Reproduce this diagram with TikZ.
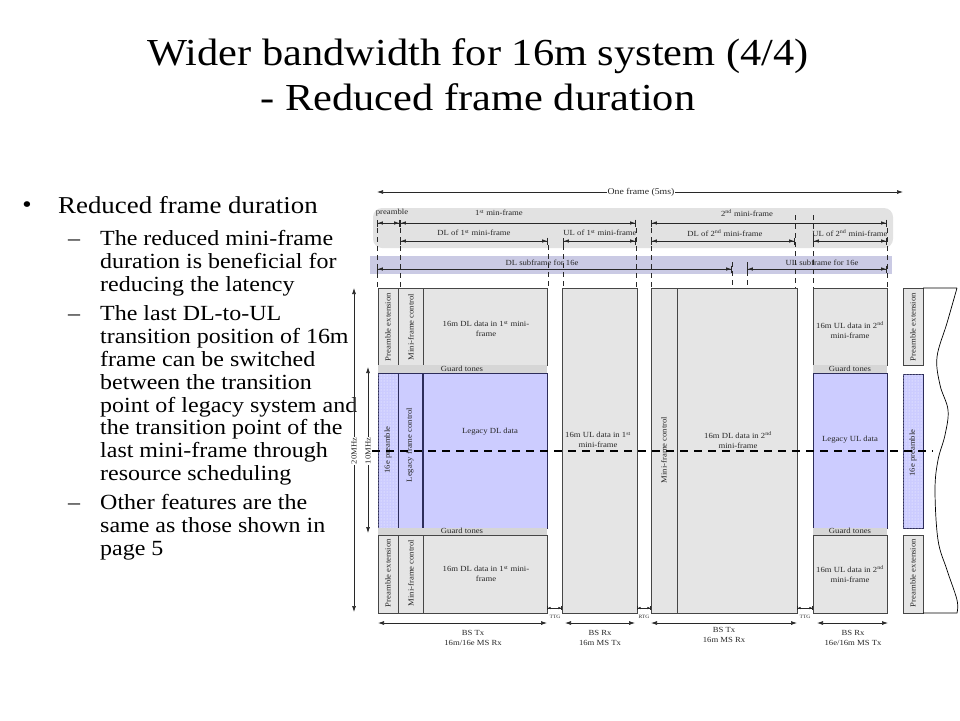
\documentclass[tikz,border=0pt]{standalone}
\usepackage{fontspec}
\setmainfont{Liberation Serif}[FakeStretch=1.11]
\usetikzlibrary{arrows.meta,patterns}

\definecolor{boxgray}{RGB}{229,229,229}
\definecolor{guardgray}{RGB}{214,214,214}
\definecolor{roundgray}{RGB}{226,226,226}
\definecolor{legacyblue}{RGB}{204,204,255}
\definecolor{bandblue}{RGB}{202,202,228}
\definecolor{edgegray}{RGB}{70,70,70}
\definecolor{edgenavy}{RGB}{45,45,90}
\definecolor{inkgray}{RGB}{40,40,40}

\newcommand{\fsz}[2]{\fontsize{#1}{#2}\selectfont}

\tikzset{
  graybox/.style={draw=edgegray, fill=boxgray, line width=0.8pt},
  bluebox/.style={draw=edgenavy, fill=legacyblue, line width=0.8pt},
  dotbox/.style={draw=edgenavy, fill=legacyblue, line width=0.8pt,
    postaction={pattern=dots, pattern color=white}},
  guardstrip/.style={fill=guardgray},
  boxlabel/.style={font=\fsz{7.8}{10}, text=inkgray, inner sep=0pt, align=center},
  sidelabel/.style={boxlabel, rotate=90},
  gaplabel/.style={font=\fsz{5}{6}, text=inkgray, inner sep=0pt},
  dimarrow/.style={draw=inkgray, line width=0.8pt,
    arrows={Bar[width=7pt]Latex[length=5pt,width=3.5pt]-Latex[length=5pt,width=3.5pt]Bar[width=7pt]}},
  gaparrow/.style={draw=inkgray, line width=0.6pt,
    arrows={Bar[width=4pt]Latex[length=3pt,width=2.5pt]-Latex[length=3pt,width=2.5pt]Bar[width=4pt]}},
  spanarrow/.style={draw=inkgray, line width=0.7pt,
    arrows={Latex[length=6pt,width=4pt]-Latex[length=6pt,width=4pt]}},
  cutline/.style={draw=inkgray, line width=0.7pt, dash pattern=on 5pt off 4pt},
  midline/.style={draw=black, line width=1.1pt, dash pattern=on 8pt off 6pt},
  titletext/.style={font=\fsz{38.2}{45}, inner sep=0pt},
  lvlone/.style={font=\fsz{24.2}{28}, inner sep=0pt},
  lvltwo/.style={font=\fsz{21.6}{23}, inner sep=0pt},
}

\begin{document}
\begin{tikzpicture}[x=1pt, y=-1pt]
  \useasboundingbox (0,0) rectangle (960,720);

  % title
  \node[titletext, anchor=base] (title1) at (478,65) {Wider bandwidth for 16m system (4/4)};
  \node[titletext, anchor=base] (title2) at (478,110) {- Reduced frame duration};

  % bullet text
  \node[font=\fsz{24}{24}, anchor=base, inner sep=0pt] (dot) at (27,212) {\textbullet};
  \node[lvlone, anchor=base west] (bul1) at (58,213) {Reduced frame duration};
  \foreach \y in {245,320,509}
    \node[lvltwo, anchor=base west] (dash\y) at (68,\y) {–};
  \foreach \n/\y/\txt in {1/245/The reduced mini-frame, 2/268/duration is beneficial for,
      3/291/reducing the latency, 4/320/The last DL-to-UL, 5/343/transition position of 16m,
      6/366/frame can be switched, 7/389/between the transition, 8/412/point of legacy system and,
      9/434.5/the transition point of the, 10/457/last mini-frame through, 11/480/resource scheduling,
      12/509/Other features are the, 13/532/same as those shown in, 14/555/page 5}
    \node[lvltwo, anchor=base west] (line\n) at (100,\y) {\txt};

  % frame header
  \fill[roundgray, rounded corners=9pt] (373,208) rectangle (893,248);
  \fill[bandblue] (370,256) rectangle (892,274);

  \draw[spanarrow] (377,192) -- (903,192);
  \node[boxlabel, fill=white, inner xsep=1pt, font=\fsz{8.8}{10}] (oneframe) at (641,192) {One frame (5ms)};

  \node[boxlabel] (pre) at (392,213) {preamble};
  \node[boxlabel] (mini1) at (499,213) {1\textsuperscript{st} min-frame};
  \node[boxlabel] (mini2) at (747,213) {2\textsuperscript{nd} mini-frame};
  \draw[dimarrow] (377,223) -- (400,223);
  \draw[dimarrow] (400,223) -- (636,223);
  \draw[dimarrow] (651,223) -- (887,223);

  \node[boxlabel] (dl1) at (474,233) {DL of 1\textsuperscript{st} mini-frame};
  \node[boxlabel] (ul1) at (600,233) {UL of 1\textsuperscript{st} mini-frame};
  \node[boxlabel] (dl2) at (725,233) {DL of 2\textsuperscript{nd} mini-frame};
  \node[boxlabel] (ul2) at (850,233) {UL of 2\textsuperscript{nd} mini-frame};
  \draw[dimarrow] (400,241) -- (548,241);
  \draw[dimarrow] (563,241) -- (636,241);
  \draw[dimarrow] (651,241) -- (795,241);
  \draw[dimarrow] (813,241) -- (887,241);

  \node[boxlabel] (dlsub) at (542,263) {DL subframe for 16e};
  \node[boxlabel] (ulsub) at (822,263) {UL subframe for 16e};
  \draw[dimarrow] (377,269) -- (732,269);
  \draw[dimarrow] (747,269) -- (887,269);

  \foreach \x/\ya in {377/228, 400/228, 548/245, 563/245, 636/228, 651/228,
      795/215, 813/215, 887/228, 732/262, 747/262}
    \draw[cutline] (\x,\ya) -- (\x,288);

  % BS Tx, 1st mini-frame DL
  \draw[graybox] (378,288) rectangle (547,365);
  \draw[graybox] (398,288) -- (398,365) (423,288) -- (423,365);
  \fill[guardstrip] (378,365) rectangle (547,373);
  \draw[bluebox] (378,373) rectangle (547,528);
  \draw[dotbox] (378,373) rectangle (398,528);
  \draw[edgenavy, line width=1.2pt] (423,373) -- (423,528);
  \fill[guardstrip] (378,528) rectangle (547,535);
  \draw[graybox] (378,535) rectangle (547,613);
  \draw[graybox] (398,535) -- (398,613) (423,535) -- (423,613);

  \node[sidelabel] (pext1) at (388,327) {Preamble extension};
  \node[sidelabel] (mctl1) at (411,327) {Mini-frame control};
  \node[boxlabel] (dldata1) at (486,329) {16m DL data in 1\textsuperscript{st} mini-\\frame};
  \node[boxlabel] (guard1) at (462,369) {Guard tones};
  \node[sidelabel] (pre16e1) at (388,450) {16e preamble};
  \node[sidelabel] (lctl) at (410,445) {Legacy frame control};
  \node[boxlabel] (legdl) at (490,432) {Legacy DL data};
  \node[boxlabel] (guard2) at (462,531) {Guard tones};
  \node[sidelabel] (pext2) at (388,573) {Preamble extension};
  \node[sidelabel] (mctl2) at (411,573) {Mini-frame control};
  \node[boxlabel] (dldata2) at (486,574) {16m DL data in 1\textsuperscript{st} mini-\\frame};

  % BS Rx, 1st mini-frame UL
  \draw[graybox] (562,288) rectangle (637,613);
  \node[boxlabel] (uldata1) at (598,440) {16m UL data in 1\textsuperscript{st}\\mini-frame};

  % BS Tx, 2nd mini-frame DL
  \draw[graybox] (651,288) rectangle (797,613);
  \draw[graybox] (677,288) -- (677,613);
  \node[sidelabel] (mctl3) at (664,450) {Mini-frame control};
  \node[boxlabel] (dldata3) at (738,440) {16m DL data in 2\textsuperscript{nd}\\mini-frame};

  % BS Rx, 2nd mini-frame UL
  \draw[graybox] (813,288) rectangle (887,365);
  \fill[guardstrip] (813,365) rectangle (887,373);
  \draw[bluebox] (813,373) rectangle (887,528);
  \fill[guardstrip] (813,528) rectangle (887,535);
  \draw[graybox] (813,535) rectangle (887,613);
  \node[boxlabel] (uldata2) at (850,330) {16m UL data in 2\textsuperscript{nd}\\mini-frame};
  \node[boxlabel] (guard3) at (850,369) {Guard tones};
  \node[boxlabel] (legul) at (850,440) {Legacy UL data};
  \node[boxlabel] (guard4) at (850,531) {Guard tones};
  \node[boxlabel] (uldata3) at (850,574) {16m UL data in 2\textsuperscript{nd}\\mini-frame};

  % next frame
  \draw[graybox] (903,288) rectangle (923,365);
  \draw[dotbox] (903,374) rectangle (923,528);
  \draw[graybox] (903,535) rectangle (923,613);
  \node[sidelabel] (pext3) at (913,327) {Preamble extension};
  \node[sidelabel] (pre16e2) at (913,453) {16e preamble};
  \node[sidelabel] (pext4) at (913,573) {Preamble extension};
  \draw[black, line width=0.7pt] (923,288) -- (957,288)
    plot[smooth, tension=0.6] coordinates {(957,288) (947,323) (937,357) (940,385) (948,410)
      (945,435) (938,460) (935,490) (938,540) (947,570) (957,600) (957,613)}
    -- (923,613);

  % 10MHz centre line
  \draw[midline] (372,451) -- (933,451);

  % bandwidth
  \draw[spanarrow] (354,288) -- (354,612);
  \node[sidelabel, fill=white, inner sep=1pt] (bw20) at (354,451) {20MHz};
  \draw[spanarrow] (368,367) -- (368,533);
  \node[sidelabel, fill=white, inner sep=1pt] (bw10) at (368,451) {10MHz};

  % gaps and links
  \draw[gaparrow] (547,608) -- (562,608);
  \node[gaplabel] (ttg1) at (555,617) {TTG};
  \draw[gaparrow] (637,608) -- (651,608);
  \node[gaplabel] (rtg) at (644,617) {RTG};
  \draw[gaparrow] (797,608) -- (813,608);
  \node[gaplabel] (ttg2) at (805,617) {TTG};

  \draw[spanarrow] (378,623) -- (547,623);
  \node[boxlabel] (link1) at (473,638) {BS Tx\\16m/16e MS Rx};
  \draw[spanarrow] (565,623) -- (635,623);
  \node[boxlabel] (link2) at (600,638) {BS Rx\\16m MS Tx};
  \draw[spanarrow] (651,623) -- (797,623);
  \node[boxlabel] (link3) at (724,635) {BS Tx\\16m MS Rx};
  \draw[spanarrow] (817,623) -- (888,623);
  \node[boxlabel] (link4) at (853,638) {BS Rx\\16e/16m MS Tx};
\end{tikzpicture}
\end{document}
